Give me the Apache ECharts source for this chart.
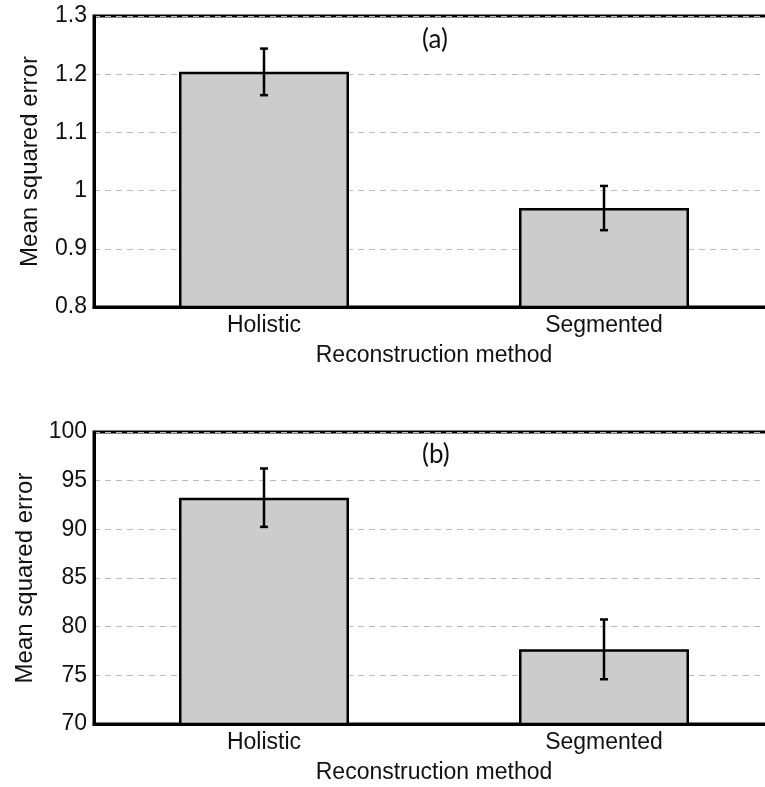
<!DOCTYPE html>
<html>
<head>
<meta charset="utf-8">
<script src="https://cdn.jsdelivr.net/npm/echarts@6/dist/echarts.min.js"></script>
<style>
  html, body { margin: 0; padding: 0; background: #fff; overflow: hidden; }
  /* the plot runs past the right edge of the window, so the canvas is wider */
  #chart { width: 800px; height: 787px; }
</style>
</head>
<body>
<div id="chart"></div>
<script>
// data
const categories = ['Holistic', 'Segmented']
const meanA = [1.204, 0.970]
const errA = [0.040, 0.038]
const meanB = [93.25, 77.67]
const errB = [3.0, 3.07]

const chart = echarts.init(document.getElementById('chart'))
const font = 'Liberation Sans, Arial, sans-serif'

// error bar drawn from [category index, low, high]
const errorBar = (params, api) => {
  const lo = api.coord([api.value(0), api.value(1)])
  const hi = api.coord([api.value(0), api.value(2)])
  const cap = 4
  const style = { stroke: '#000', lineWidth: 2.5 }
  return {
    type: 'group',
    children: [
      { type: 'line', shape: { x1: hi[0], y1: hi[1], x2: lo[0], y2: lo[1] }, style },
      { type: 'line', shape: { x1: hi[0] - cap, y1: hi[1], x2: hi[0] + cap, y2: hi[1] }, style },
      { type: 'line', shape: { x1: lo[0] - cap, y1: lo[1], x2: lo[0] + cap, y2: lo[1] }, style },
    ],
  }
}

const errData = (mean, err) => mean.map((m, i) => [i, m - err[i], m + err[i]])

const makeX = (gridIndex) => ({
  type: 'category',
  gridIndex,
  data: categories,
  name: 'Reconstruction method',
  nameLocation: 'middle',
  nameGap: 37,
  nameTextStyle: { fontFamily: font, fontSize: 23, color: '#111' },
  axisLine: { show: true, lineStyle: { color: '#000', width: 3 } },
  axisTick: { show: false },
  axisLabel: { fontFamily: font, fontSize: 23, color: '#111', margin: 7 },
})

const makeY = (gridIndex, min, max, interval) => ({
  type: 'value',
  gridIndex,
  min,
  max,
  interval,
  name: 'Mean squared error',
  nameLocation: 'middle',
  nameGap: 52,
  nameTextStyle: { fontFamily: font, fontSize: 24, color: '#111' },
  axisLine: { show: true, lineStyle: { color: '#000', width: 3 } },
  axisTick: { show: false },
  axisLabel: { fontFamily: font, fontSize: 23, color: '#111', margin: 7 },
  splitLine: { show: true, lineStyle: { color: '#bbb', type: [6, 5], width: 1 } },
})

const barSeries = (idx, data) => ({
  type: 'bar',
  xAxisIndex: idx,
  yAxisIndex: idx,
  data,
  barWidth: '50%',
  itemStyle: { color: '#cccccc', borderColor: '#000', borderWidth: 2.5 },
  z: 2,
})

const option = {
  backgroundColor: '#fff',
  animation: false,
  grid: [
    { left: 94, top: 16, width: 680, height: 291, show: true, borderColor: '#000', borderWidth: 3, backgroundColor: 'transparent' },
    { left: 94, top: 432, width: 680, height: 292, show: true, borderColor: '#000', borderWidth: 3, backgroundColor: 'transparent' },
  ],
  xAxis: [makeX(0), makeX(1)],
  yAxis: [makeY(0, 0.8, 1.3, 0.1), makeY(1, 70, 100, 5)],
  graphic: [
    { type: 'text', left: 422, top: 27, style: { text: '(a)', font: '26px Lato, "Open Sans", sans-serif', fill: '#111' } },
    { type: 'text', left: 422, top: 442, style: { text: '(b)', font: '26px Lato, "Open Sans", sans-serif', fill: '#111' } },
  ],
  series: [
    barSeries(0, meanA),
    barSeries(1, meanB),
    { type: 'custom', xAxisIndex: 0, yAxisIndex: 0, renderItem: errorBar, data: errData(meanA, errA), encode: { x: 0, y: [1, 2] }, z: 3 },
    { type: 'custom', xAxisIndex: 1, yAxisIndex: 1, renderItem: errorBar, data: errData(meanB, errB), encode: { x: 0, y: [1, 2] }, z: 3 },
  ],
}

chart.setOption(option)
</script>
</body>
</html>
